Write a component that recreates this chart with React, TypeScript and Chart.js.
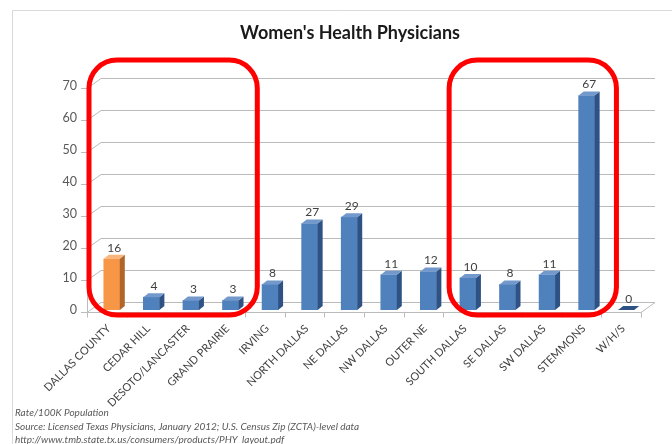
import React, { useEffect, useRef } from "react";
import { Chart, registerables } from "chart.js";

Chart.register(...registerables);

// ---------- data ----------
const categories = [
  "DALLAS COUNTY",
  "CEDAR HILL",
  "DESOTO/LANCASTER",
  "GRAND PRAIRIE",
  "IRVING",
  "NORTH DALLAS",
  "NE DALLAS",
  "NW DALLAS",
  "OUTER NE",
  "SOUTH DALLAS",
  "SE DALLAS",
  "SW DALLAS",
  "STEMMONS",
  "W/H/S",
];
const rates = [16, 4, 3, 3, 8, 27, 29, 11, 12, 10, 8, 11, 67, 0];
const countyIndex = [0];
const yMin = 0;
const yMax = 70;
const yStep = 10;
const chartTitle = "Women's Health Physicians";
const footnotes = [
  "Rate/100K Population",
  "Source: Licensed Texas Physicians, January 2012; U.S. Census Zip (ZCTA)-level data",
  "http://www.tmb.state.tx.us/consumers/products/PHY_layout.pdf",
];
// groups of categories circled in red: [first index, last index]
const highlightGroups: [number, number][] = [
  [0, 3],
  [9, 12],
];

// ---------- styles ----------
const FONT = "Lato, 'Open Sans', 'Liberation Sans', sans-serif";
const FRONT = { dx: -5, dy: 2 };
const BACK = { dx: 9, dy: -8 };
const DEPTH = { dx: 5, dy: -4 };
const BLUE = { front: "#4F81BD", side: "#2F5284", top: "#7398CB" };
const ORANGE = { front: "#F79646", side: "#B0652A", top: "#FAB57C" };
const GRID = "#BBBBBB";

const threeDPlugin = {
  id: "threeD",
  beforeDatasetsDraw(chart: any) {
    const { ctx, chartArea: a, scales } = chart;
    const x = scales.x;
    const y = scales.y;
    ctx.save();
    // outer frame
    ctx.strokeStyle = "#D9D9D9";
    ctx.lineWidth = 1;
    ctx.beginPath();
    ctx.moveTo(12.5, 444);
    ctx.lineTo(12.5, 10.5);
    ctx.lineTo(672, 10.5);
    ctx.stroke();

    ctx.strokeStyle = GRID;
    y.ticks.forEach((t: any) => {
      const py = Math.round(y.getPixelForValue(t.value)) + 0.5;
      ctx.beginPath();
      ctx.moveTo(a.left + FRONT.dx - 6, py + FRONT.dy);
      ctx.lineTo(a.left + FRONT.dx, py + FRONT.dy);
      ctx.lineTo(a.left + BACK.dx, py + BACK.dy);
      ctx.lineTo(a.right + BACK.dx, py + BACK.dy);
      ctx.stroke();
    });
    const y0 = Math.round(y.getPixelForValue(0)) + 0.5;
    const yTop = Math.round(y.getPixelForValue(y.max)) + 0.5;
    ctx.beginPath();
    ctx.moveTo(a.left + FRONT.dx + 0.5, yTop + FRONT.dy);
    ctx.lineTo(a.left + FRONT.dx + 0.5, y0 + FRONT.dy);
    ctx.lineTo(a.right + FRONT.dx, y0 + FRONT.dy);
    ctx.lineTo(a.right + BACK.dx, y0 + BACK.dy);
    ctx.stroke();
    // category tick marks on the front floor edge
    const n = categories.length;
    const w = (a.right - a.left) / n;
    for (let i = 0; i <= n; i++) {
      const bx = Math.round(x.getPixelForValue(0) - w / 2 + i * w + FRONT.dx) + 0.5;
      ctx.beginPath();
      ctx.moveTo(bx, y0 + FRONT.dy);
      ctx.lineTo(bx, y0 + FRONT.dy + 5);
      ctx.stroke();
    }
    ctx.restore();
  },
  afterDatasetsDraw(chart: any) {
    const { ctx } = chart;
    const meta = chart.getDatasetMeta(0);
    ctx.save();
    meta.data.forEach((el: any, i: number) => {
      const p = el.getProps(["x", "y", "base", "width"], true);
      const c = countyIndex.includes(i) ? ORANGE : BLUE;
      const l = p.x - p.width / 2;
      const r = p.x + p.width / 2;
      const top = Math.min(p.y, p.base);
      const bot = p.base;
      // side face
      ctx.fillStyle = c.side;
      ctx.beginPath();
      ctx.moveTo(r, top);
      ctx.lineTo(r + DEPTH.dx, top + DEPTH.dy);
      ctx.lineTo(r + DEPTH.dx, bot + DEPTH.dy);
      ctx.lineTo(r, bot);
      ctx.closePath();
      ctx.fill();
      // top face
      ctx.fillStyle = rates[i] === 0 ? c.side : c.top;
      ctx.beginPath();
      ctx.moveTo(l, top);
      ctx.lineTo(r, top);
      ctx.lineTo(r + DEPTH.dx, top + DEPTH.dy);
      ctx.lineTo(l + DEPTH.dx, top + DEPTH.dy);
      ctx.closePath();
      ctx.fill();
      // value label
      ctx.fillStyle = "#404040";
      ctx.font = `12px ${FONT}`;
      ctx.textAlign = "center";
      ctx.textBaseline = "middle";
      ctx.fillText(String(rates[i]), p.x + DEPTH.dx / 2, top - 11);
    });
    ctx.restore();
  },
  afterDraw(chart: any) {
    const { ctx, chartArea: a, scales } = chart;
    const x = scales.x;
    const y = scales.y;
    const w = (a.right - a.left) / categories.length;
    ctx.save();
    // red highlight boxes
    ctx.strokeStyle = "#FF0000";
    ctx.lineWidth = 5;
    const boxTop = y.getPixelForValue(y.max) - 26;
    const boxBot = y.getPixelForValue(0) + 5;
    highlightGroups.forEach(([f, lst], gi) => {
      const bl = x.getPixelForValue(f) - w / 2 + (gi === 0 ? -3 : 1);
      const br = x.getPixelForValue(lst) + w / 2 + (gi === 0 ? 7 : 10);
      ctx.beginPath();
      (ctx as any).roundRect(bl, boxTop, br - bl, boxBot - boxTop, 28);
      ctx.stroke();
    });
    // title
    ctx.fillStyle = "#1A1A1A";
    ctx.font = `bold 18px ${FONT}`;
    ctx.textAlign = "center";
    ctx.textBaseline = "middle";
    ctx.fillText(chartTitle, 350, 33);
    // footnotes
    ctx.fillStyle = "#595959";
    ctx.font = `italic 10px ${FONT}`;
    ctx.textAlign = "left";
    footnotes.forEach((t, i) => {
      ctx.fillText(t, 15, 413 + i * 13.5);
    });
    ctx.restore();
  },
};

export default function App() {
  const ref = useRef<HTMLCanvasElement | null>(null);
  useEffect(() => {
    if (!ref.current) return;
    const chart = new Chart(ref.current, {
      type: "bar",
      data: {
        labels: categories,
        datasets: [
          {
            data: rates,
            backgroundColor: rates.map((_, i) => (countyIndex.includes(i) ? ORANGE.front : BLUE.front)),
            barThickness: 16,
            borderWidth: 0,
          },
        ],
      },
      options: {
        responsive: false,
        animation: false,
        events: [],
        layout: { padding: { top: 86, right: 26, bottom: 0, left: 0 } },
        plugins: {
          legend: { display: false },
          title: { display: false },
          tooltip: { enabled: false },
        },
        scales: {
          x: {
            grid: { display: false, drawTicks: false },
            border: { display: false },
            ticks: {
              autoSkip: false,
              maxRotation: 45,
              minRotation: 45,
              padding: 12,
              labelOffset: -3,
              color: "#404040",
              font: { family: FONT, size: 11 },
            },
            afterFit: (s: any) => {
              s.height = 134;
            },
          },
          y: {
            min: yMin,
            max: yMax,
            grid: { display: false, drawTicks: false },
            border: { display: false },
            ticks: {
              stepSize: yStep,
              padding: 15,
              color: "#595959",
              font: { family: FONT, size: 12.5 },
            },
            afterFit: (s: any) => {
              s.width = 92;
            },
          },
        },
      },
      plugins: [threeDPlugin],
    });
    return () => chart.destroy();
  }, []);
  return (
    <div style={{ position: "fixed", left: 0, top: 0, width: 672, height: 444, background: "#fff" }}>
      <canvas ref={ref} width={672} height={444} />
    </div>
  );
}
